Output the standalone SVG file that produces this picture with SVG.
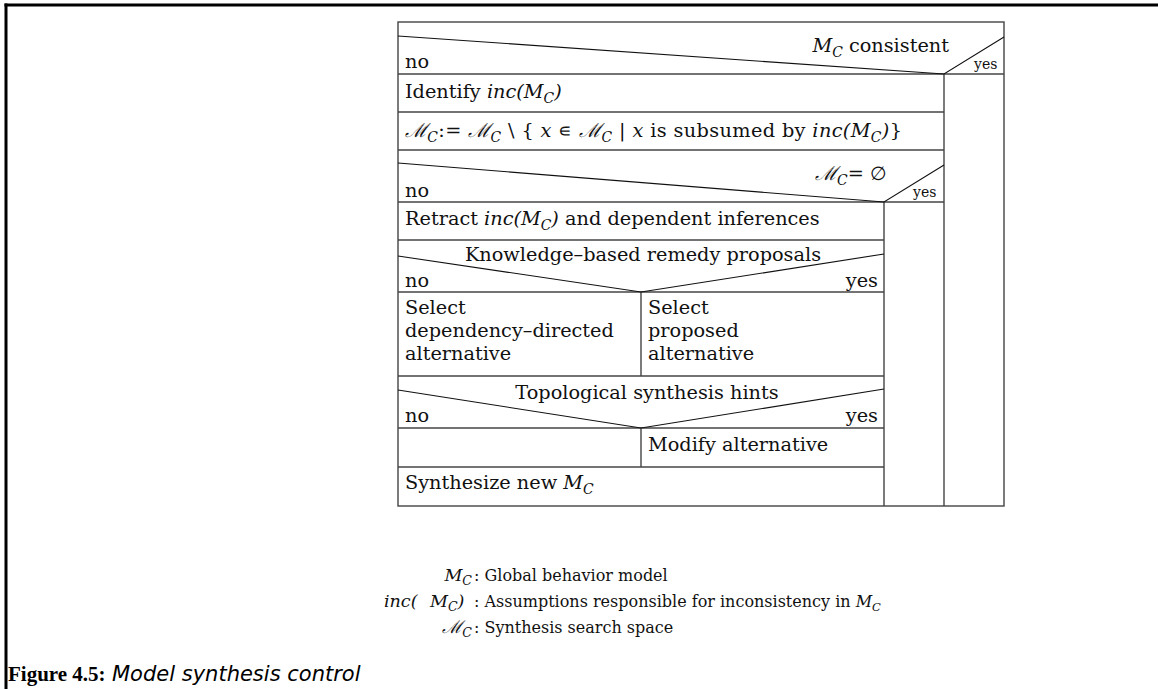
<svg xmlns="http://www.w3.org/2000/svg" width="1158" height="689" viewBox="0 0 1158 689">
  <style>
    .t { font-family: "DejaVu Serif", "Liberation Serif", serif; font-size: 19.3px; fill: #111; }
    .s { font-family: "DejaVu Serif", "Liberation Serif", serif; font-size: 14px; fill: #111; }
    .lg { font-family: "DejaVu Serif", "Liberation Serif", serif; font-size: 16px; fill: #111; }
    .lk { font-family: "DejaVu Serif", "Liberation Serif", serif; font-size: 17.5px; fill: #111; }
    .i { font-style: italic; }
    .sub { font-size: 0.72em; font-style: italic; }
    .cal { font-style: italic; }
    .box { fill: none; stroke: #444; stroke-width: 1.4; }
    .ln { stroke: #444; stroke-width: 1.4; fill: none; }
    .dg { stroke: #111; stroke-width: 1.1; fill: none; }
    .frame { stroke: #000; stroke-width: 3; fill: none; }
  </style>

  <!-- page frame -->
  <g id="frame">
    <line class="frame" x1="4.5" y1="5" x2="1158" y2="5"/>
    <line class="frame" x1="6" y1="3.5" x2="6" y2="689"/>
  </g>

  <!-- structure chart grid -->
  <g id="connectors">
    <rect class="box" x="398" y="22" width="606" height="484"/>
    <line class="ln" x1="398" y1="74" x2="1004" y2="74"/>
    <line class="ln" x1="398" y1="112" x2="944" y2="112"/>
    <line class="ln" x1="398" y1="150" x2="944" y2="150"/>
    <line class="ln" x1="398" y1="202" x2="944" y2="202"/>
    <line class="ln" x1="398" y1="240" x2="884" y2="240"/>
    <line class="ln" x1="398" y1="292" x2="884" y2="292"/>
    <line class="ln" x1="398" y1="376" x2="884" y2="376"/>
    <line class="ln" x1="398" y1="428" x2="884" y2="428"/>
    <line class="ln" x1="398" y1="467" x2="884" y2="467"/>
    <line class="ln" x1="944" y1="74" x2="944" y2="506"/>
    <line class="ln" x1="884" y1="202" x2="884" y2="506"/>
    <line class="ln" x1="641" y1="292" x2="641" y2="376"/>
    <line class="ln" x1="641" y1="428" x2="641" y2="467"/>
    <polyline class="dg" points="398,36 944,74 1004,37"/>
    <polyline class="dg" points="398,163 884,202 944,165"/>
    <polyline class="dg" points="398,256 641,292 884,254"/>
    <polyline class="dg" points="398,390 641,428 884,389"/>
  </g>

  <g id="cond-consistent">
    <text class="t" x="949" y="52" text-anchor="end"><tspan class="i">M</tspan><tspan class="sub" dy="5">C</tspan><tspan dy="-5"> consistent</tspan></text>
    <text class="t" x="405" y="68">no</text>
    <text class="s" x="974" y="69">yes</text>
  </g>

  <g id="identify">
    <text class="t" x="405" y="98">Identify <tspan class="i">inc(</tspan><tspan class="i">M</tspan><tspan class="sub" dy="5">C</tspan><tspan class="i" dy="-5">)</tspan></text>
  </g>

  <g id="restrict-space">
    <text class="t" x="405" y="137" textLength="497" lengthAdjust="spacing"><tspan class="cal">ℳ</tspan><tspan class="sub" dy="5">C</tspan><tspan dy="-5">:= </tspan><tspan class="cal">ℳ</tspan><tspan class="sub" dy="5">C</tspan><tspan dy="-5"> \ { </tspan><tspan class="i">x</tspan><tspan> ∊ </tspan><tspan class="cal">ℳ</tspan><tspan class="sub" dy="5">C</tspan><tspan dy="-5"> | </tspan><tspan class="i">x</tspan><tspan> is subsumed by </tspan><tspan class="i">inc(M</tspan><tspan class="sub" dy="5">C</tspan><tspan class="i" dy="-5">)</tspan><tspan>}</tspan></text>
  </g>

  <g id="cond-empty">
    <text class="t" x="815" y="180"><tspan class="cal">ℳ</tspan><tspan class="sub" dy="5">C</tspan><tspan dy="-5">= ∅</tspan></text>
    <text class="t" x="405" y="197">no</text>
    <text class="s" x="913" y="197">yes</text>
  </g>

  <g id="retract">
    <text class="t" x="405" y="225">Retract <tspan class="i">inc(M</tspan><tspan class="sub" dy="5">C</tspan><tspan class="i" dy="-5">)</tspan> and dependent inferences</text>
  </g>

  <g id="cond-remedy">
    <text class="t" x="643" y="261" text-anchor="middle">Knowledge–based remedy proposals</text>
    <text class="t" x="405" y="287">no</text>
    <text class="t" x="878" y="287" text-anchor="end">yes</text>
  </g>

  <g id="select-dependency">
    <text class="t" x="405" y="314">Select</text>
    <text class="t" x="405" y="337">dependency–directed</text>
    <text class="t" x="405" y="360">alternative</text>
  </g>

  <g id="select-proposed">
    <text class="t" x="648" y="314">Select</text>
    <text class="t" x="648" y="337">proposed</text>
    <text class="t" x="648" y="360">alternative</text>
  </g>

  <g id="cond-hints">
    <text class="t" x="647" y="399" text-anchor="middle">Topological synthesis hints</text>
    <text class="t" x="405" y="422">no</text>
    <text class="t" x="878" y="422" text-anchor="end">yes</text>
  </g>

  <g id="modify">
    <text class="t" x="648" y="451">Modify alternative</text>
  </g>

  <g id="synthesize">
    <text class="t" x="405" y="489">Synthesize new <tspan class="i">M</tspan><tspan class="sub" dy="5">C</tspan></text>
  </g>

  <!-- legend -->
  <g id="legend">
    <text class="lk" x="472" y="581" text-anchor="end"><tspan class="i">M</tspan><tspan class="sub" dy="4">C</tspan></text>
    <text class="lg" x="474" y="581">: Global behavior model</text>
    <text class="lk" y="607"><tspan x="384" class="i">inc(</tspan><tspan x="430" class="i">M</tspan><tspan class="sub" dy="4">C</tspan><tspan class="i" dy="-4">)</tspan></text>
    <text class="lg" x="474" y="607">: Assumptions responsible for inconsistency in <tspan class="i">M</tspan><tspan class="sub" dy="4">C</tspan></text>
    <text class="lk" x="472" y="633" text-anchor="end"><tspan class="cal">ℳ</tspan><tspan class="sub" dy="4">C</tspan></text>
    <text class="lg" x="474" y="633">: Synthesis search space</text>
  </g>

  <g id="caption">
    <text x="8" y="681" style="font-family:'Liberation Serif',serif;font-weight:bold;font-size:21px;fill:#000">Figure 4.5:</text>
    <text x="112" y="681" style="font-family:'DejaVu Sans',sans-serif;font-style:italic;font-size:21px;fill:#000">Model synthesis control</text>
  </g>
</svg>
